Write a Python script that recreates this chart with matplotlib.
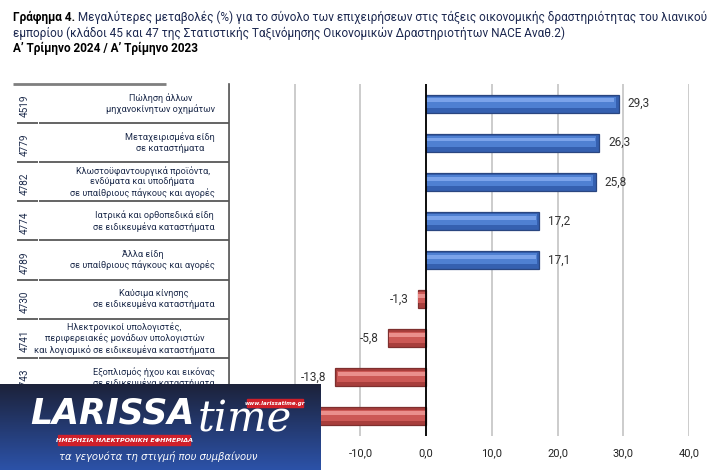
import matplotlib
matplotlib.use("Agg")
import matplotlib.pyplot as plt
import numpy as np
from matplotlib.patches import Rectangle
from matplotlib import font_manager as fm

def has_font(name):
    try:
        fm.findfont(fm.FontProperties(family=name), fallback_to_default=False)
        return True
    except Exception:
        return False

main_font = 'Roboto' if has_font('Roboto') else 'Open Sans'
plt.rcParams['font.family'] = [main_font, 'DejaVu Sans']

codes = ["4519", "4779", "4782", "4774", "4789", "4730", "4741", "4743", "4742"]
labels = [
    "Πώληση άλλων\nμηχανοκίνητων οχημάτων",
    "Μεταχειρισμένα είδη\nσε καταστήματα",
    "Κλωστοϋφαντουργικά προϊόντα,\nενδύματα και υποδήματα\nσε υπαίθριους πάγκους και αγορές",
    "Ιατρικά και ορθοπεδικά είδη\nσε ειδικευμένα καταστήματα",
    "Άλλα είδη\nσε υπαίθριους πάγκους και αγορές",
    "Καύσιμα κίνησης\nσε ειδικευμένα καταστήματα",
    "Ηλεκτρονικοί υπολογιστές,\nπεριφερειακές μονάδων υπολογιστών\nκαι λογισμικό σε ειδικευμένα καταστήματα",
    "Εξοπλισμός ήχου και εικόνας\nσε ειδικευμένα καταστήματα",
    "Εξοπλισμός τηλεπικοινωνιών\nσε ειδικευμένα καταστήματα",
]
values = [29.3, 26.3, 25.8, 17.2, 17.1, -1.3, -5.8, -13.8, -17.5]
xticks = [-30, -20, -10, 0, 10, 20, 30, 40]

title_bold = "Γράφημα 4."
title_rest = " Μεγαλύτερες μεταβολές (%) για το σύνολο των επιχειρήσεων στις τάξεις οικονομικής δραστηριότητας του λιανικού"
title_line2 = "εμπορίου (κλάδοι 45 και 47 της Στατιστικής Ταξινόμησης Οικονομικών Δραστηριοτήτων NACE Αναθ.2)"
title_line3 = "Α’ Τρίμηνο 2024 / Α’ Τρίμηνο 2023"

W, H = 716, 470
fig = plt.figure(figsize=(W / 100, H / 100), dpi=100)
r = fig.canvas.get_renderer()

def fx(px):
    return px / W

def fy(py):
    return 1 - py / H

def width_of(s, size, **kw):
    t = fig.text(0, 0, s, fontsize=size, **kw)
    w = t.get_window_extent(renderer=r).width
    t.remove()
    return w

def fit_size(s, target, base=8.0, **kw):
    return base * target / width_of(s, base, **kw)

txtcol = "#1f2d4d"
titlecol = "#1c2850"

# ---- title ----
wb = width_of(title_bold, 8.0, fontweight='bold')
wr = width_of(title_rest, 8.0)
tsize = min(8.0 * 696 / (wb + wr), 9.5)
t1 = fig.text(fx(13), fy(17), title_bold, fontsize=tsize, fontweight='bold', color='#000000', va='center', ha='left')
bb = t1.get_window_extent(renderer=r)
fig.text(bb.x1 / W, fy(17), title_rest, fontsize=tsize, color=titlecol, va='center', ha='left')
fig.text(fx(13), fy(33), title_line2, fontsize=tsize, color=titlecol, va='center', ha='left')
fig.text(fx(13), fy(48), title_line3, fontsize=tsize, fontweight='bold', color='#000000', va='center', ha='left')

# ---- main axes ----
top, bot = 84, 436
left, right = 229, 689
ax = fig.add_axes([fx(left), fy(bot), fx(right) - fx(left), (bot - top) / H])
n = len(values)
y = np.arange(n)
ax.set_xlim(-30, 40)
ax.set_ylim(n - 0.5, -0.5)
for s in ax.spines.values():
    s.set_visible(False)
ax.set_xticks(xticks)
ax.set_xticklabels([f"{v:.1f}".replace('.', ',') for v in xticks], fontsize=tsize * 0.95, color='#222222')
ax.tick_params(axis='x', length=0, pad=9)
ax.set_yticks([])
ax.grid(axis='x', color='#c4c4c4', lw=1.2)
ax.set_axisbelow(True)

vals = np.array(values)
pos = vals >= 0
base_col = np.where(pos, '#3560b0', '#a83e3c')
edge_col = np.where(pos, '#2a4680', '#7e2f2e')
mid_col = np.where(pos, '#4f80d2', '#cc5855')
hi_col = np.where(pos, '#7ba3ea', '#ea8f8c')
ax.barh(y, vals, height=0.46, color=base_col, edgecolor=edge_col, lw=0.9, zorder=3)
ax.barh(y - 0.03, vals * 0.985, height=0.28, color=mid_col, lw=0, zorder=4)
ax.barh(y - 0.08, vals * 0.975, height=0.1, color=hi_col, lw=0, zorder=5)
ax.axvline(0, color='#000000', lw=1.3, zorder=6)

for yi, v in zip(y, values):
    s = f"{v:.1f}".replace('.', ',')
    if v >= 0:
        ax.text(v + 1.4, yi, s, ha='left', va='center', fontsize=tsize, color='#333333', zorder=7)
    else:
        ax.text(v - 1.4, yi, s, ha='right', va='center', fontsize=tsize, color='#333333', zorder=7)

# ---- table axes ----
lsize = fit_size("μηχανοκίνητων οχημάτων", 105) * 1.04
csize = 7.2
tx = fig.add_axes([0, fy(bot), fx(left), (bot - top) / H])
tx.set_xlim(0, left)
tx.set_ylim(n - 0.5, -0.5)
tx.axis('off')
tx.plot([13, 166], [-0.5, -0.5], color='#7f7f7f', lw=2.0, solid_capstyle='butt', clip_on=False)
for b in np.arange(0.5, n - 0.5, 1.0):
    tx.plot([17, 37.5], [b, b], color='#3a3a3a', lw=1.1, solid_capstyle='butt')
    tx.plot([38.5, left], [b, b], color='#3a3a3a', lw=1.1, solid_capstyle='butt')
tx.plot([left - 0.5, left - 0.5], [-0.5, n - 0.5], color='#555555', lw=1.2, clip_on=False)
for yi, c, lab in zip(y, codes, labels):
    tx.text(25, yi + 0.06, c, rotation=90, ha='center', va='center', fontsize=csize, color=txtcol)
    tx.text(215, yi, lab, ha='right', va='center', multialignment='center',
            fontsize=lsize, color=txtcol, linespacing=1.2)

# ---- logo overlay ----
lg_top = 384
la = fig.add_axes([0, 0, fx(321), (H - lg_top) / H])
la.set_xlim(0, 321)
la.set_ylim(H, lg_top)
la.axis('off')
grad = np.linspace(0, 1, 100)[:, None]
c0 = np.array([0x1c, 0x22, 0x3a]) / 255
c1 = np.array([0x2c, 0x52, 0xa8]) / 255
img = c0[None, None, :] * (1 - grad[..., None]) + c1[None, None, :] * grad[..., None]
img = np.repeat(img, 2, axis=1)
la.imshow(img, extent=[0, 321, H, lg_top], aspect='auto', zorder=1)
la.text(30, 414, "LARISSA", fontsize=25, fontweight='heavy', fontstyle='italic',
        color='white', ha='left', va='center', family='DejaVu Sans', zorder=3)
la.text(198, 420, "time", fontsize=30, fontstyle='italic', color='white',
        ha='left', va='center', family='DejaVu Serif', zorder=3)
la.add_patch(Rectangle((58, 435), 132, 10, color='#d0202a', zorder=4))
la.text(124, 440, "ΗΜΕΡΗΣΙΑ ΗΛΕΚΤΡΟΝΙΚΗ ΕΦΗΜΕΡΙΔΑ", fontsize=4.6, fontweight='bold',
        fontstyle='italic', color='white', ha='center', va='center', family='DejaVu Sans', zorder=5)
la.add_patch(Rectangle((247, 399), 56, 8, color='#d0202a', zorder=4))
la.text(275, 403, "www.larissatime.gr", fontsize=4, fontweight='bold', fontstyle='italic',
        color='white', ha='center', va='center', family='DejaVu Sans', zorder=5)
la.text(158, 457, "τα γεγονότα τη στιγμή που συμβαίνουν", fontsize=7.2, fontstyle='italic',
        color='white', ha='center', va='center', family='DejaVu Sans', zorder=3)

fig.savefig("out.png", dpi=100)
